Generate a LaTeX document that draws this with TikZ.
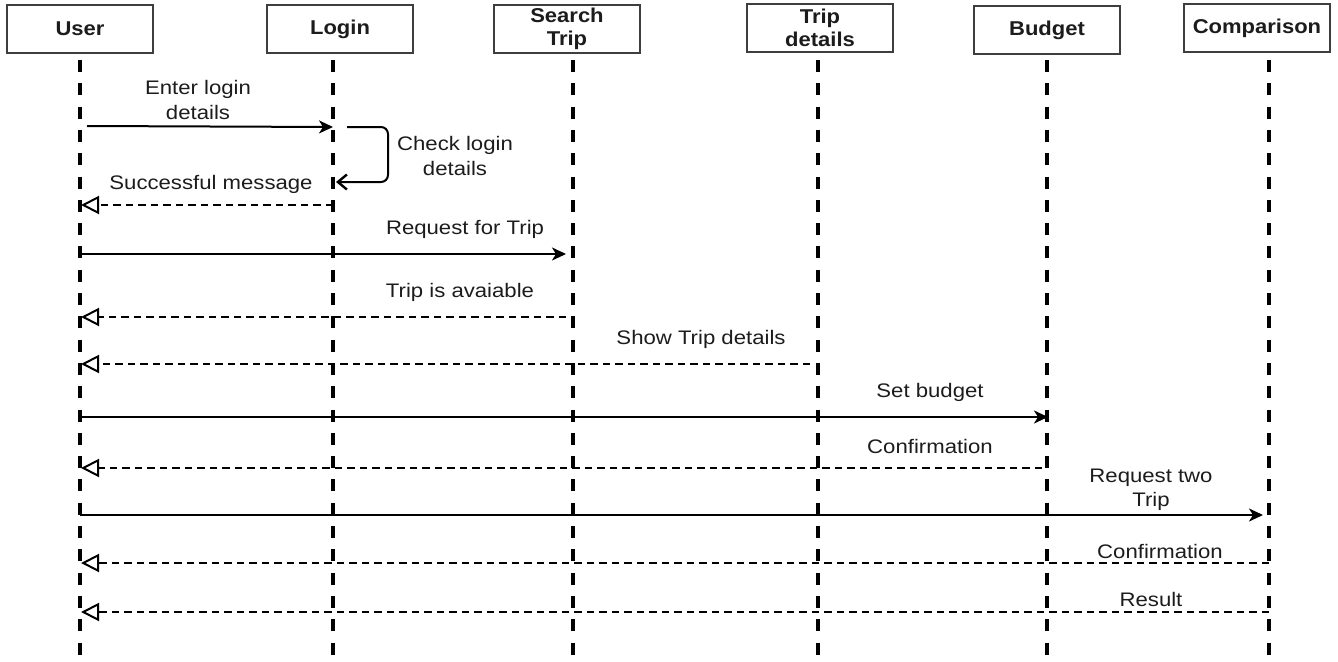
\documentclass[tikz,border=0pt]{standalone}
\usepackage{fontspec}
\setmainfont{Liberation Sans}[FakeStretch=1.1]
\newfontfamily\labelfont{Liberation Sans}[FakeStretch=1.13]
\usetikzlibrary{arrows.meta}
\definecolor{ink}{HTML}{1C1C1C}
\tikzset{
  actor/.style={draw=ink!85, line width=1.8pt, minimum width=146pt, minimum height=48pt,
    inner sep=0pt, font=\bfseries\fontsize{20}{23}\selectfont, align=center, text=ink},
  lifeline/.style={line width=3.2pt, dash pattern=on 12pt off 11.3pt, draw=black},
  msg/.style={line width=2pt, draw=black, -{Stealth[length=14pt,width=13pt,inset=4pt]}},
  selfmsg/.style={line width=2pt, draw=black, rounded corners=7pt,
    -{Straight Barb[length=9pt,width=15pt,line width=2.4pt]}},
  reply/.style={line width=2pt, draw=black, dash pattern=on 7.5pt off 5pt,
    -{Triangle[open,length=18pt,width=18pt,line width=2pt]}},
  lbl/.style={font=\labelfont\fontsize{19.6}{24.5}\selectfont, align=center, text=ink, inner sep=0pt},
}
\begin{document}
\begin{tikzpicture}[x=1pt,y=-1pt]
\useasboundingbox (0,0) rectangle (1338,661);

% participants
\node[actor] (user)   at (80,29)   {User};
\node[actor] (login)  at (340,29)  {Login};
\node[actor] (search) at (567,29)  {Search\\Trip};
\node[actor] (tripd)  at (820,28)  {Trip\\details};
\node[actor] (budget) at (1047,30) {Budget};
\node[actor] (comp)   at (1257,28) {Comparison};

% lifeline ends
\coordinate (uT) at (80,60);   \coordinate (uB) at (80,661);
\coordinate (lT) at (333,60);  \coordinate (lB) at (333,661);
\coordinate (sT) at (573,60);  \coordinate (sB) at (573,661);
\coordinate (tT) at (818,60);  \coordinate (tB) at (818,661);
\coordinate (bT) at (1047,60); \coordinate (bB) at (1047,661);
\coordinate (cT) at (1269,60); \coordinate (cB) at (1269,661);

\foreach \a/\b in {uT/uB,lT/lB,sT/sB,tT/tB,bT/bB,cT/cB}
  \draw[lifeline] (\a) -- (\b);

% message end points
\coordinate (m1a) at (87,126);   \coordinate (m1b) at (333,127);
\coordinate (s1a) at (347,127);  \coordinate (s1b) at (388,127);
\coordinate (s1c) at (388,182);  \coordinate (s1d) at (336,182);
\coordinate (r1a) at (333,205);  \coordinate (r1b) at (81,205);
\coordinate (m2a) at (80,254);   \coordinate (m2b) at (566,254);
\coordinate (r2a) at (566,317);  \coordinate (r2b) at (81,317);
\coordinate (r3a) at (810,364);  \coordinate (r3b) at (81,364);
\coordinate (m3a) at (80,417);   \coordinate (m3b) at (1048,417);
\coordinate (r4a) at (1042,468); \coordinate (r4b) at (81,468);
\coordinate (m4a) at (80,515);   \coordinate (m4b) at (1263,515);
\coordinate (r5a) at (1269,563); \coordinate (r5b) at (81,563);
\coordinate (r6a) at (1269,612); \coordinate (r6b) at (81,612);

% messages
\draw[msg] (m1a) -- (m1b);
\draw[selfmsg] (s1a) -- (s1b) -- (s1c) -- (s1d);
\draw[reply] (r1a) -- (r1b);
\draw[msg] (m2a) -- (m2b);
\draw[reply] (r2a) -- (r2b);
\draw[reply] (r3a) -- (r3b);
\draw[msg] (m3a) -- (m3b);
\draw[reply] (r4a) -- (r4b);
\draw[msg] (m4a) -- (m4b);
\draw[reply] (r5a) -- (r5b);
\draw[reply] (r6a) -- (r6b);

% labels
\node[lbl] (t1)  at (198,100) {Enter login\\details};
\node[lbl] (t2)  at (455,156) {Check login\\details};
\node[lbl] (t3)  at (211,184) {Successful message};
\node[lbl] (t4)  at (465,229) {Request for Trip};
\node[lbl] (t5)  at (460,292) {Trip is avaiable};
\node[lbl] (t6)  at (701,339) {Show Trip details};
\node[lbl] (t7)  at (930,392) {Set budget};
\node[lbl] (t8)  at (930,446) {Confirmation};
\node[lbl] (t9)  at (1151,490) {Request two\\Trip};
\node[lbl] (t10) at (1160,551) {Confirmation};
\node[lbl] (t11) at (1151,599) {Result};
\end{tikzpicture}
\end{document}
